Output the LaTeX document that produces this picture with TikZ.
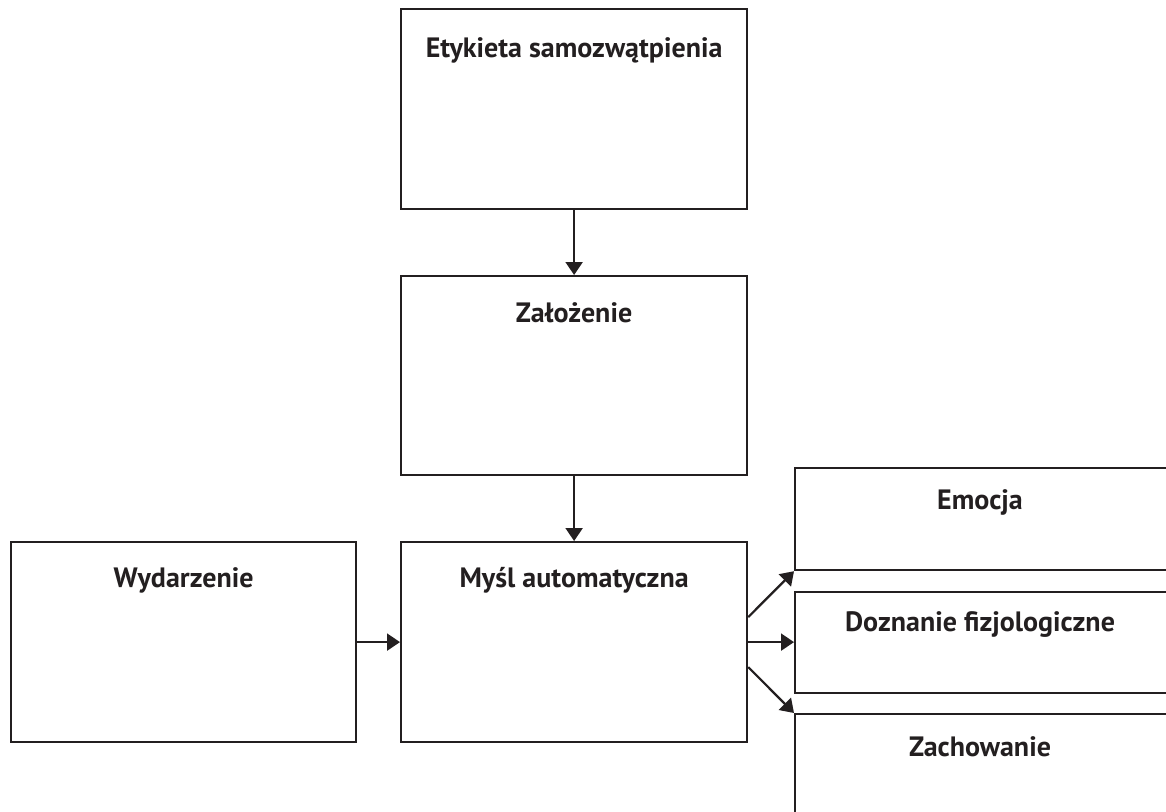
\documentclass[tikz,border=0pt]{standalone}
\usepackage{fontspec}
\setmainfont{PT Sans}
\usetikzlibrary{arrows.meta,calc}
\definecolor{ink}{HTML}{231F20}
\tikzset{
  box/.style={draw=ink, line width=2.2pt, rectangle, inner sep=0pt, anchor=north west},
  lbl/.style={text=ink, font=\fontsize{28}{32}\selectfont\bfseries, inner sep=0pt, anchor=center},
  arr/.style={draw=ink, line width=2.2pt, -{Triangle[length=13pt,width=17pt]}}
}
\begin{document}
\begin{tikzpicture}[x=1pt,y=1pt]
\useasboundingbox (0,0) rectangle (1166,-811);
\clip (0,0) rectangle (1166,-811);
% boxes
\node[box, minimum width=346pt, minimum height=200pt] (etyk) at (400,-8) {};
\node[box, minimum width=346pt, minimum height=199pt] (zal) at (400,-275) {};
\node[box, minimum width=346pt, minimum height=200pt] (mysl) at (400,-541) {};
\node[box, minimum width=345pt, minimum height=200pt] (wyd) at (10,-541) {};
\node[box, minimum width=400pt, minimum height=102pt] (emo) at (794,-467) {};
\node[box, minimum width=400pt, minimum height=101pt] (dozn) at (794,-591) {};
\node[box, minimum width=400pt, minimum height=130pt] (zach) at (794,-713) {};
% labels
\node[lbl] (tetyk) at ($(etyk.north)+(0,-42)$) {Etykieta samozwątpienia};
\node[lbl] (tzal) at ($(zal.north)+(0,-38)$) {Założenie};
\node[lbl] (tmysl) at ($(mysl.north)+(0,-39)$) {Myśl automatyczna};
\node[lbl] (twyd) at ($(wyd.north)+(0,-39)$) {Wydarzenie};
\node[lbl] (temo) at (980,-502) {Emocja};
\node[lbl] (tdozn) at (980,-625) {Doznanie fizjologiczne};
\node[lbl] (tzach) at (980,-747) {Zachowanie};
% arrows
\draw[arr] (etyk.south) -- (zal.north);
\draw[arr] (zal.south) -- (mysl.north);
\draw[arr] (wyd.east) -- (mysl.west);
\draw[arr] (mysl.east) -- (mysl.east -| dozn.west);
\draw[arr] ([yshift=25pt]mysl.east) -- (emo.south west);
\draw[arr] ([yshift=-25pt]mysl.east) -- (zach.north west);
\end{tikzpicture}
\end{document}
